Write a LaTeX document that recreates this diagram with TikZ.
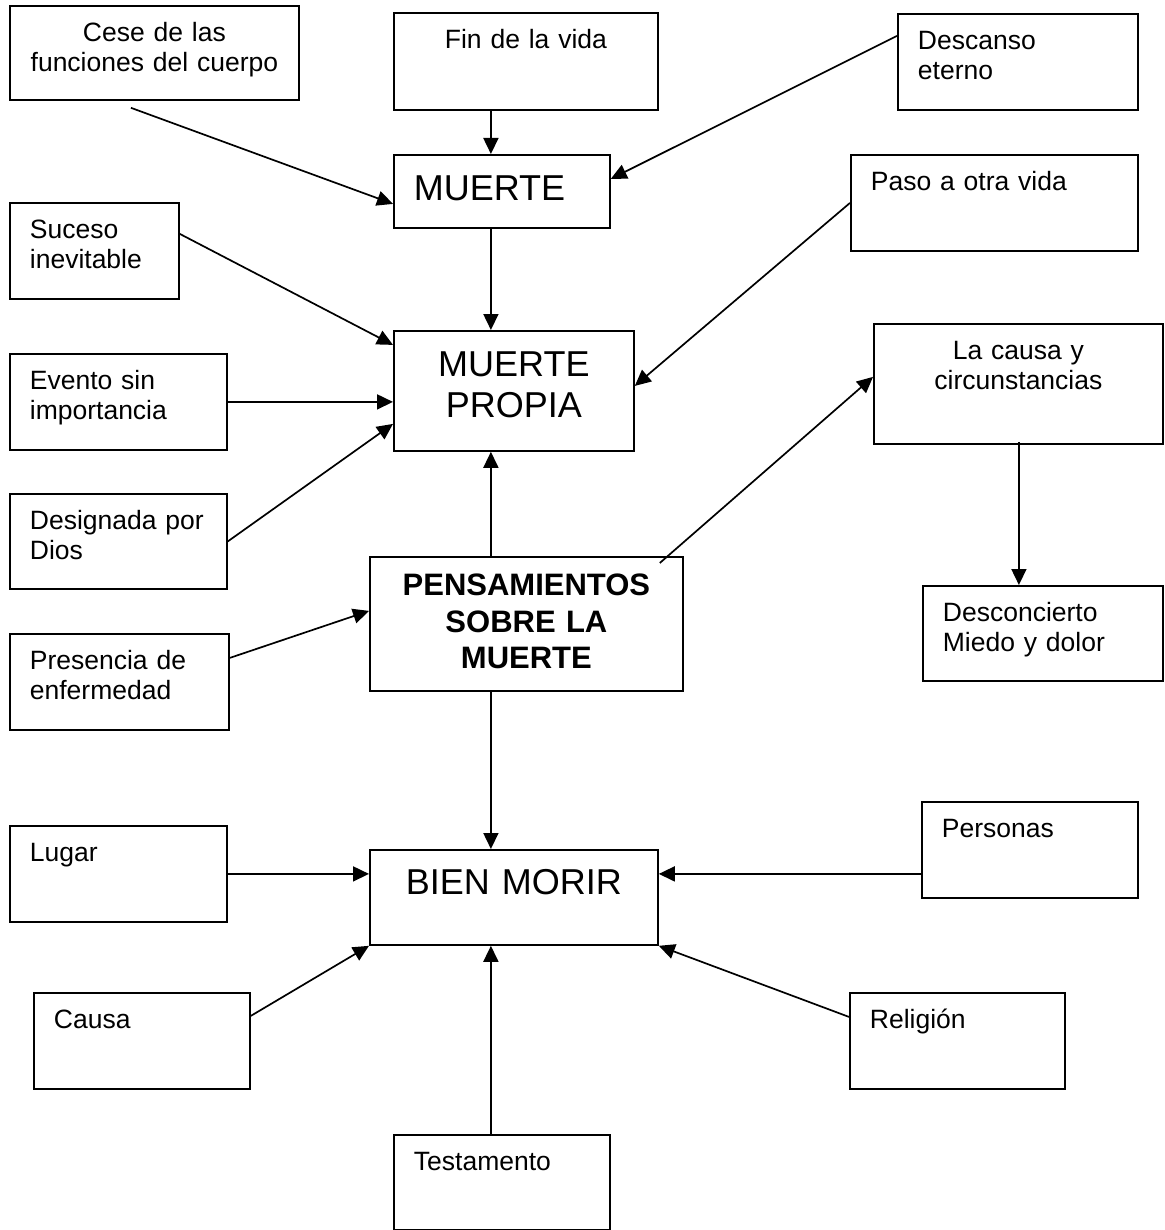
\documentclass[tikz,border=0pt]{standalone}
\usepackage{fontspec}
\setmainfont{Liberation Sans}
\usetikzlibrary{arrows.meta}

\begin{document}
\begin{tikzpicture}[
  x=1pt, y=-1pt,
  font=\fontsize{26.5}{29.5}\selectfont,
  idea/.style 2 args={draw,line width=1.8pt,rectangle,anchor=north west,inner
xsep=20pt,inner ysep=0pt,align=left,text width=#1,text height=36pt,text depth=#2},
  ideaCentered/.style 2 args={idea={#1}{#2},inner xsep=5pt,align=center},
  concept/.style 2 args={idea={#1}{#2},font=\fontsize{36}{41}\selectfont,text height=46pt},
  conceptCentered/.style 2 args={concept={#1}{#2},inner xsep=5pt,align=center},
  centralConcept/.style 2 args={ideaCentered={#1}{#2},font=\fontsize{31}{36.5}\selectfont\bfseries,text height=39pt},
  relation/.style={-{Triangle[length=16pt,width=15pt]},line width=1.7pt,black}]

  \useasboundingbox (0,0) rectangle (1164,1230);

  % boxes around MUERTE
  \node[ideaCentered={279pt}{58pt}] (cese) at (9,5) {Cese de las\\funciones del cuerpo};
  \node[ideaCentered={254pt}{61pt}] (fin) at (393,12) {Fin de la vida};
  \node[idea={200pt}{60pt}] (descanso) at (897,13) {Descanso\\eterno};
  \node[concept={176pt}{27pt}] (muerte) at (393,154) {MUERTE};

  % boxes around MUERTE PROPIA
  \node[idea={129pt}{60pt}] (suceso) at (9,202) {Suceso\\inevitable};
  \node[idea={247pt}{60pt}] (paso) at (850,154) {Paso a otra vida};
  \node[conceptCentered={230pt}{74pt}] (propia) at (393,330) {MUERTE\\PROPIA};
  \node[idea={177pt}{60pt}] (evento) at (9,353) {Evento sin\\importancia};
  \node[idea={177pt}{59pt}] (designada) at (9,493) {Designada por\\Dios};

  % central box
  \node[centralConcept={303pt}{95pt}] (pensamientos) at (369,556) {PENSAMIENTOS\\SOBRE LA\\MUERTE};
  \node[ideaCentered={279pt}{84pt}] (laCausa) at (873,323) {La causa y\\circunstancias};
  \node[idea={200pt}{59pt}] (desconcierto) at (922,585) {Desconcierto\\Miedo y dolor};
  \node[idea={179pt}{60pt}] (presencia) at (9,633) {Presencia de\\enfermedad};

  % boxes around BIEN MORIR
  \node[idea={177pt}{60pt}] (lugar) at (9,825) {Lugar};
  \node[conceptCentered={278pt}{50pt},text height=45pt] (bienMorir) at (369,849) {BIEN MORIR};
  \node[idea={176pt}{60pt}] (personas) at (921,801) {Personas};
  \node[idea={176pt}{60pt}] (causa) at (33,992) {Causa};
  \node[idea={175pt}{60pt}] (religion) at (849,992) {Religión};
  \node[idea={176pt}{59pt}] (testamento) at (393,1134) {Testamento};

  % arrows to MUERTE
  \draw [relation] ([xshift=-23.5pt,yshift=-7pt]cese.south) -- ([yshift=-12.5pt]muerte.west);
  \draw [relation] ([xshift=-35pt]fin.south) -- ([xshift=-11pt]muerte.north);
  \draw [relation] ([yshift=26pt]descanso.west) -- ([yshift=12.5pt]muerte.east);

  % arrows to MUERTE PROPIA
  \draw [relation] ([xshift=-11pt]muerte.south) -- ([xshift=-23pt]propia.north);
  \draw [relation] ([yshift=17pt]suceso.east) -- ([yshift=46pt]propia.west);
  \draw [relation] (paso.west) -- ([yshift=5pt]propia.east);
  \draw [relation] (evento.east) -- (evento.east -| propia.west);
  \draw [relation] (designada.east) -- ([yshift=-33pt]propia.west);
  \draw [relation] ([xshift=-35.5pt]pensamientos.north) -- ([xshift=-23pt]propia.south);

  % arrows from PENSAMIENTOS
  \draw [relation] ([xshift=-24pt,yshift=-7pt]pensamientos.north east) -- ([yshift=7pt]laCausa.west);
  \draw [relation] ([xshift=0.5pt,yshift=3pt]laCausa.south) -- ([xshift=-24pt]desconcierto.north);
  \draw [relation] ([yshift=24pt]presencia.east) -- ([yshift=13pt]pensamientos.west);
  \draw [relation] ([xshift=-35.5pt]pensamientos.south) -- ([xshift=-23pt]bienMorir.north);

  % arrows to BIEN MORIR
  \draw [relation] (lugar.east) -- (lugar.east -| bienMorir.west);
  \draw [relation] ([yshift=-24pt]personas.west) -- ([yshift=23.5pt]bienMorir.east);
  \draw [relation] ([yshift=25pt]causa.east) -- (bienMorir.south west);
  \draw [relation] ([yshift=24pt]religion.west) -- (bienMorir.south east);
  \draw [relation] ([xshift=-11pt]testamento.north) -- ([xshift=-23pt]bienMorir.south);
\end{tikzpicture}
\end{document}
